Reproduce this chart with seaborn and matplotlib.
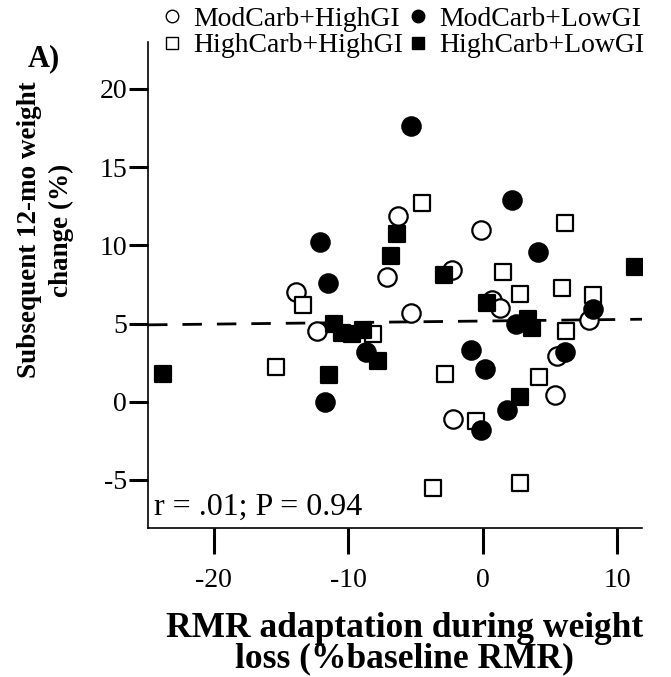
import numpy as np
import pandas as pd
import seaborn as sns
import matplotlib.pyplot as plt
from matplotlib.lines import Line2D

# values (RMR adaptation %, 12-mo weight change %)
mod_high_x = [-13.9, -12.3, -7.1, -6.3, -5.3, -0.1, -2.3, 0.7, 1.3, -2.2, 5.4, 5.5, 7.9]
mod_high_y = [7.0, 4.5, 8.0, 11.9, 5.7, 11.0, 8.4, 6.5, 6.0, -1.1, 0.4, 2.9, 5.2]

mod_low_x = [-5.3, -12.1, -11.5, -8.7, -11.7, 2.2, 4.1, -0.9, 0.2, 1.8, -0.1, 2.5, 6.1, 8.2]
mod_low_y = [17.6, 10.2, 7.6, 3.2, 0.0, 12.9, 9.6, 3.3, 2.1, -0.5, -1.8, 5.0, 3.2, 5.9]

high_high_x = [-13.4, -8.2, -15.4, -4.5, 1.5, 2.8, -2.8, -0.5, -3.7, 2.8, 4.2, 6.1, 5.9, 8.2, 6.2]
high_high_y = [6.2, 4.3, 2.2, 12.7, 8.3, 6.9, 1.8, -1.2, -5.5, -5.2, 1.6, 11.4, 7.3, 6.8, 4.5]

high_low_x = [-23.8, -6.4, -6.8, -2.9, 0.3, -11.1, -10.5, -9.7, -8.9, -7.8, -11.4, 2.8, 3.4, 3.7, 11.3]
high_low_y = [1.8, 10.7, 9.3, 8.1, 6.3, 5.0, 4.4, 4.3, 4.6, 2.6, 1.7, 0.3, 5.3, 4.7, 8.6]

# regression line
fit_intercept = 5.16
fit_slope = 0.0098

x_ticks = [-20, -10, 0, 10]
y_ticks = [-5, 0, 5, 10, 15, 20]

groups = pd.concat([
    pd.DataFrame({"rmr": mod_high_x, "wt": mod_high_y, "diet": "ModCarb+HighGI"}),
    pd.DataFrame({"rmr": high_high_x, "wt": high_high_y, "diet": "HighCarb+HighGI"}),
    pd.DataFrame({"rmr": mod_low_x, "wt": mod_low_y, "diet": "ModCarb+LowGI"}),
    pd.DataFrame({"rmr": high_low_x, "wt": high_low_y, "diet": "HighCarb+LowGI"}),
])

# marker, face colour, size for each diet
styles = {
    "ModCarb+HighGI": ("o", "white", 175),
    "HighCarb+HighGI": ("s", "white", 125),
    "ModCarb+LowGI": ("o", "black", 175),
    "HighCarb+LowGI": ("s", "black", 125),
}

sns.set_style("ticks")
plt.rcParams["font.family"] = ["Liberation Serif", "DejaVu Serif"]
plt.rcParams["axes.unicode_minus"] = False
for k in ["text.color", "axes.labelcolor", "xtick.color", "ytick.color", "axes.edgecolor"]:
    plt.rcParams[k] = "black"

fig = plt.figure(figsize=(6.71, 6.77), dpi=100)
ax = fig.add_axes([0.2206, 0.2201, 0.7362, 0.7179])

xlim = (-24.9, 11.85)
xs = np.array(xlim)
ax.plot(xs, fit_intercept + fit_slope * xs, color="black", lw=2.0,
        dashes=(7, 5.4), zorder=1)

for diet, (mk, fc, sz) in styles.items():
    d = groups[groups["diet"] == diet]
    sns.scatterplot(data=d, x="rmr", y="wt", marker=mk, s=sz, color=fc,
                    edgecolor="black", linewidth=1.6, ax=ax, zorder=2, legend=False)

ax.set_xlim(*xlim)
ax.set_ylim(-8.07, 23.0)
ax.set_xticks(x_ticks)
ax.set_yticks(y_ticks)
ax.tick_params(axis="both", width=2.2, labelsize=20)
ax.tick_params(axis="x", length=19, pad=10)
ax.tick_params(axis="y", length=14, pad=1)
for s in ["top", "right"]:
    ax.spines[s].set_visible(False)
for s in ["left", "bottom"]:
    ax.spines[s].set_linewidth(1.2)

ax.set_xlabel("RMR adaptation during weight\nloss (%baseline RMR)",
              fontsize=25.5, fontweight="bold", linespacing=0.88)
ax.xaxis.set_label_coords(0.52, -0.173)
ax.set_ylabel("Subsequent 12-mo weight\nchange (%)",
              fontsize=19.5, fontweight="bold", linespacing=1.35)
ax.yaxis.set_label_coords(-0.15, 0.613)

ax.text(0.012, 0.012, "r = .01; P = 0.94", transform=ax.transAxes,
        fontsize=23, ha="left", va="bottom")
fig.text(0.042, 0.9025, "A)", fontsize=22, fontweight="bold",
         ha="left", va="baseline")

# legend in two rows above the axes
order = ["ModCarb+HighGI", "HighCarb+HighGI", "ModCarb+LowGI", "HighCarb+LowGI"]
handles = []
for diet in order:
    mk, fc, sz = styles[diet]
    handles.append(Line2D([], [], ls="", marker=mk, markersize=9 if mk == "o" else 8,
                          markerfacecolor=fc, markeredgecolor="black",
                          markeredgewidth=1.0))
fig.legend(handles, order, loc="upper left", bbox_to_anchor=(0.24, 0.991),
           ncol=2, frameon=False, fontsize=20, handlelength=0.8,
           handletextpad=0.35, columnspacing=0.15, labelspacing=0.05,
           borderaxespad=0.0, borderpad=0.0)

fig.savefig("out.png", dpi=100)
